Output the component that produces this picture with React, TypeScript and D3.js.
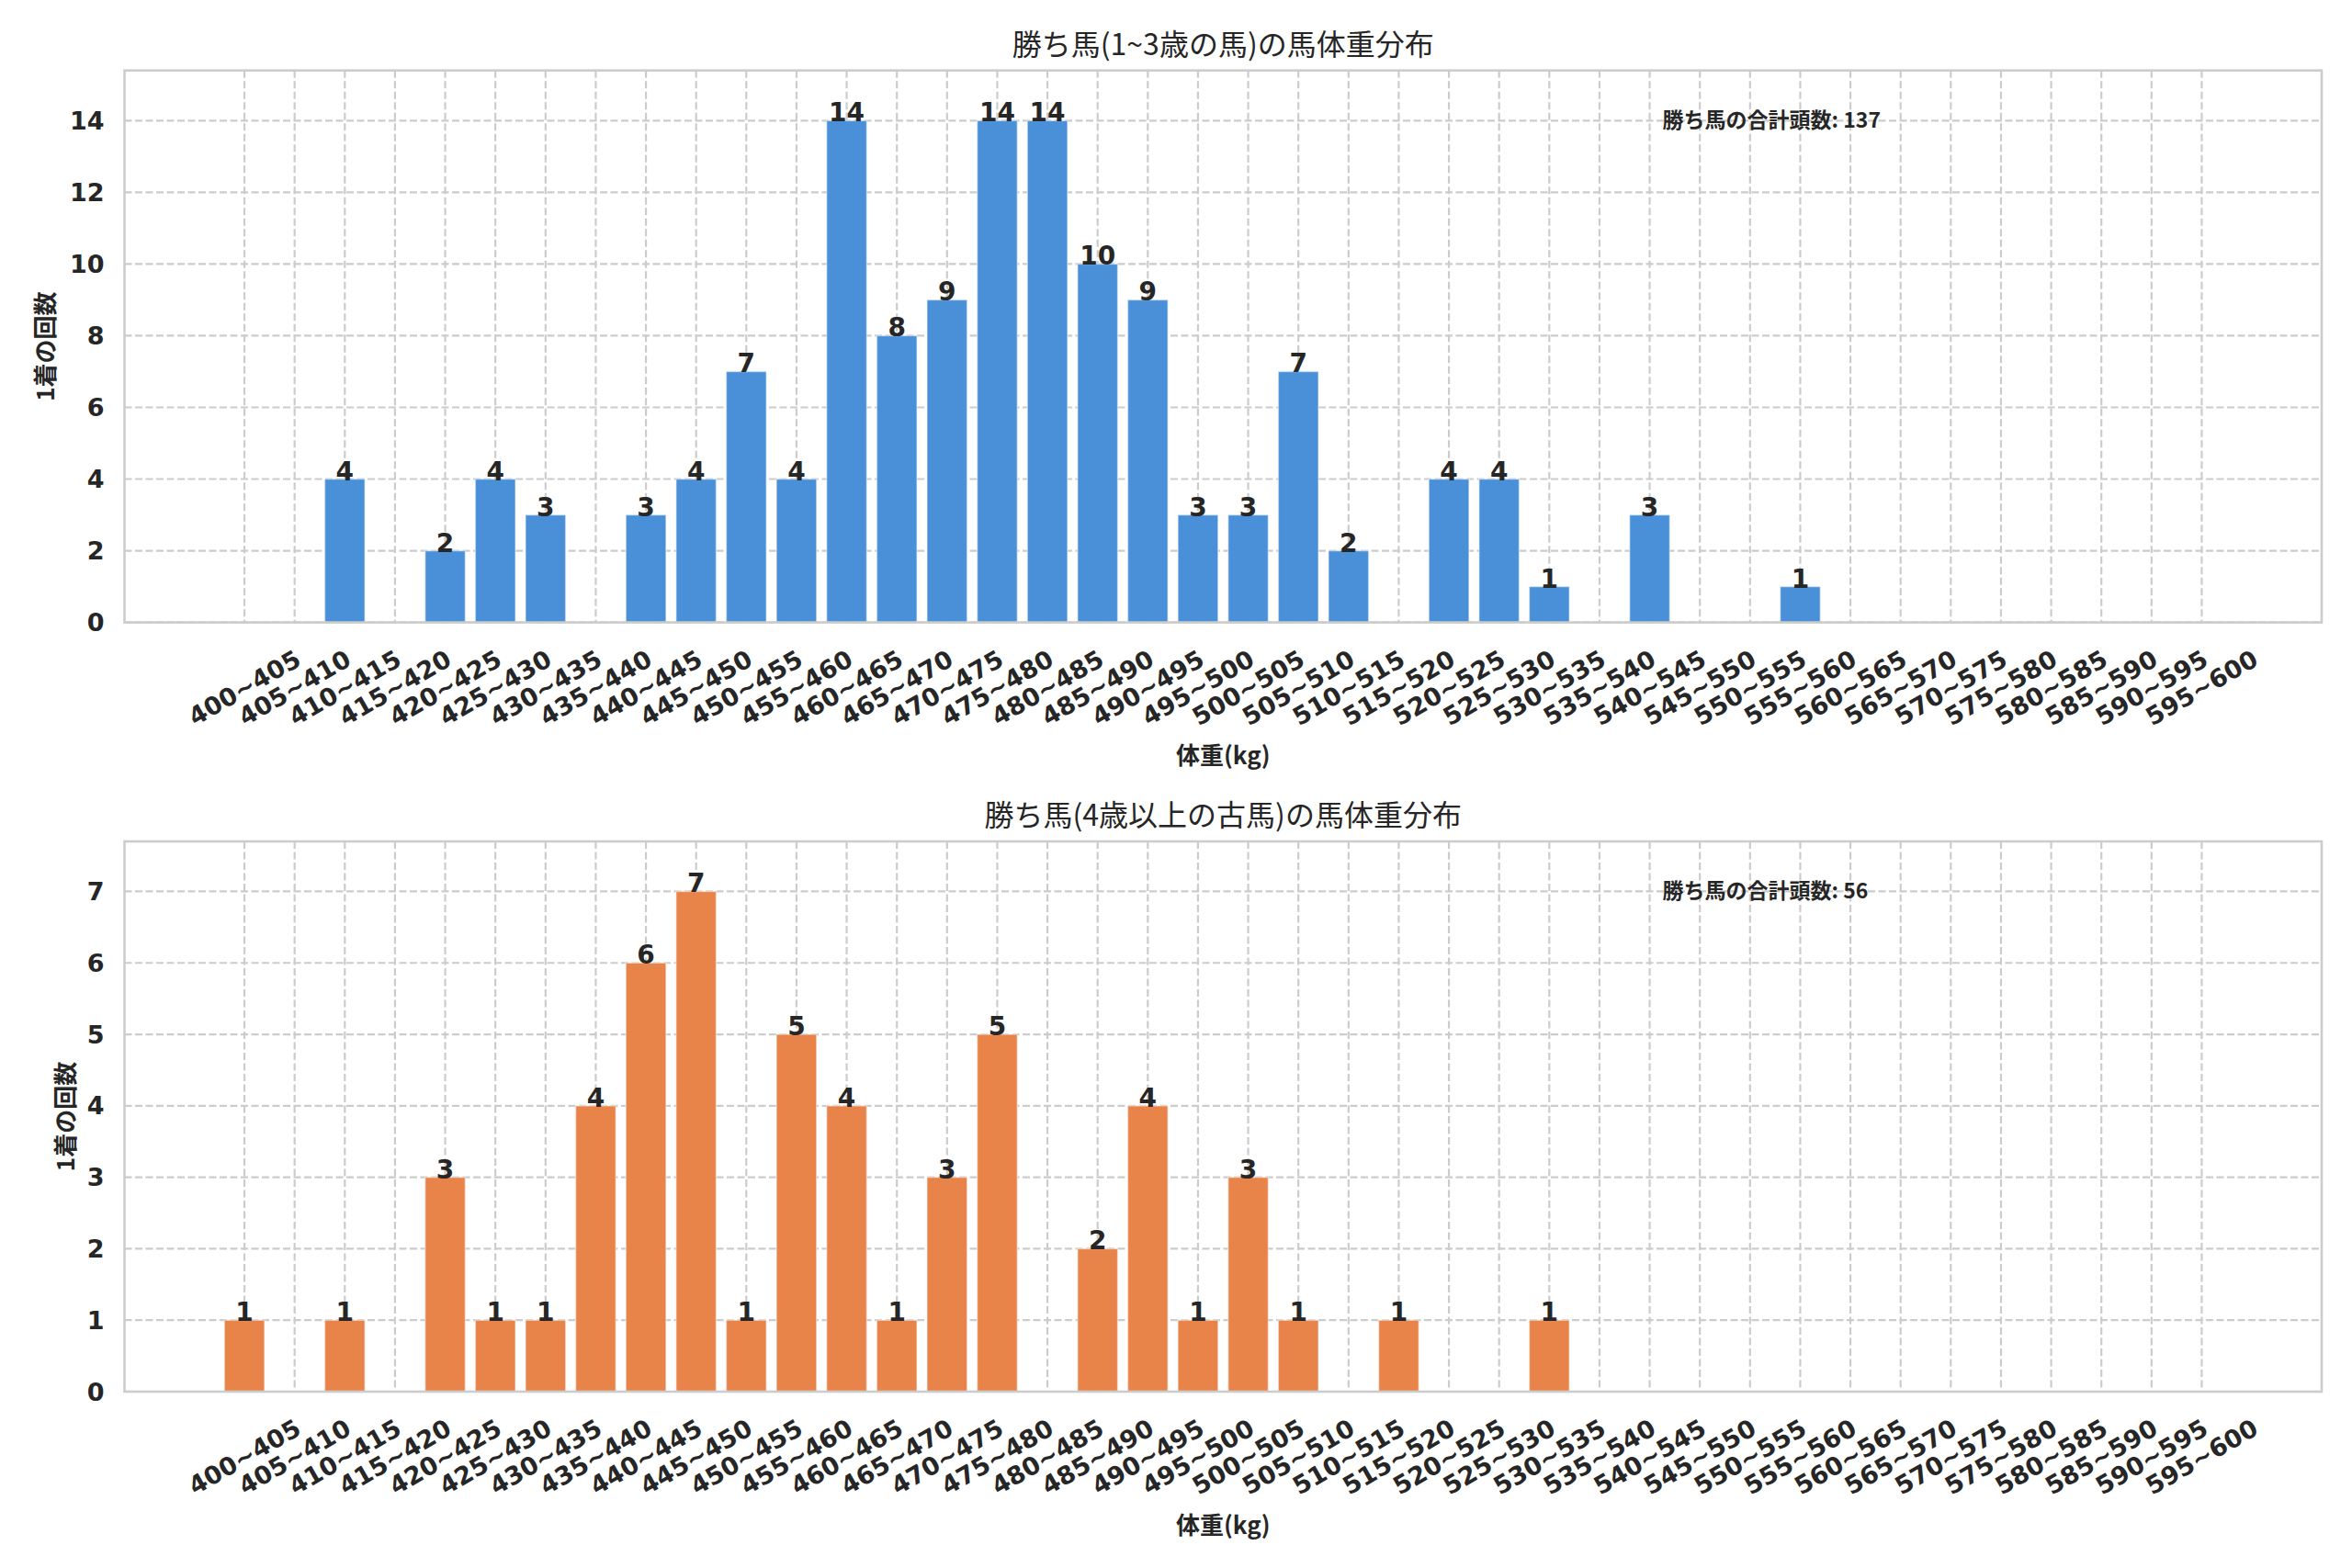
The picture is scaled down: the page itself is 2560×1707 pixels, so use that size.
import React from 'react';
import * as d3 from 'd3';

// weight bins (kg)
const categories = [
  '400~405', '405~410', '410~415', '415~420', '420~425', '425~430', '430~435', '435~440',
  '440~445', '445~450', '450~455', '455~460', '460~465', '465~470', '470~475', '475~480',
  '480~485', '485~490', '490~495', '495~500', '500~505', '505~510', '510~515', '515~520',
  '520~525', '525~530', '530~535', '535~540', '540~545', '545~550', '550~555', '555~560',
  '560~565', '565~570', '570~575', '575~580', '580~585', '585~590', '590~595', '595~600',
];

// 1~3 yr
const youngCounts = [
  0, 0, 4, 0, 2, 4, 3, 0, 3, 4, 7, 4, 14, 8, 9, 14,
  14, 10, 9, 3, 3, 7, 2, 0, 4, 4, 1, 0, 3, 0, 0, 1,
  0, 0, 0, 0, 0, 0, 0, 0,
];

// 4 yr and up
const olderCounts = [
  1, 0, 1, 0, 3, 1, 1, 4, 6, 7, 1, 5, 4, 1, 3, 5,
  0, 2, 4, 1, 3, 1, 0, 1, 0, 0, 1, 0, 0, 0, 0, 0,
  0, 0, 0, 0, 0, 0, 0, 0,
];

const yTicksTop = [0, 2, 4, 6, 8, 10, 12, 14];
const yTicksBottom = [0, 1, 2, 3, 4, 5, 6, 7];

const titles = ['勝ち馬(1~3歳の馬)の馬体重分布', '勝ち馬(4歳以上の古馬)の馬体重分布'];
const xLabel = '体重(kg)';
const yLabel = '1着の回数';
const totalLabel = '勝ち馬の合計頭数';

const W = 2560;
const H = 1707;
const left = 135.5;
const right = 2527;
const textColor = '#262626';
const gridColor = '#cccccc';
const tickFont = "'DejaVu Sans', 'Liberation Sans', sans-serif";
const jpFont = "'Noto Sans CJK JP', 'Noto Sans', sans-serif";

const x = d3.scaleBand<string>()
  .domain(categories)
  .range([left, right])
  .paddingInner(0.2)
  .paddingOuter(1.99);

type PanelProps = {
  values: number[];
  ticks: number[];
  top: number;
  bottom: number;
  color: string;
  title: string;
  ylabelX: number;
};

const Panel = ({ values, ticks, top, bottom, color, title, ylabelX }: PanelProps) => {
  const y = d3.scaleLinear()
    .domain([0, (d3.max(values) ?? 1) * 1.1])
    .range([bottom, top]);
  const total = d3.sum(values);
  const bw = x.bandwidth();
  const cx = (c: string) => (x(c) ?? 0) + bw / 2;
  const midX = (left + right) / 2;

  return (
    <g>
      {/* title */}
      <text x={midX} y={top - 17} textAnchor="middle" fontFamily={jpFont}
        fontSize={32} fill={textColor}>{title}</text>

      {/* grid */}
      {categories.map((c) => (
        <line key={'v' + c} x1={cx(c)} x2={cx(c)} y1={top} y2={bottom}
          stroke={gridColor} strokeWidth={2.2} strokeDasharray="8,3.5" />
      ))}
      {ticks.map((t) => (
        <line key={'h' + t} x1={left} x2={right} y1={y(t)} y2={y(t)}
          stroke={gridColor} strokeWidth={2.2} strokeDasharray="8,3.5" />
      ))}

      {/* bars */}
      {values.map((v, i) => v > 0 && (
        <rect key={'b' + i} x={x(categories[i])} width={bw} y={y(v)} height={y(0) - y(v)}
          fill={color} stroke="#ffffff" strokeOpacity={0.45} strokeWidth={1.5} />
      ))}

      {/* value labels */}
      {values.map((v, i) => v > 0 && (
        <text key={'l' + i} x={cx(categories[i])} y={y(v) + 1} textAnchor="middle"
          fontFamily={tickFont} fontWeight="bold" fontSize={28}
          fill={textColor}>{v}</text>
      ))}

      {/* spines */}
      <rect x={left} y={top} width={right - left} height={bottom - top}
        fill="none" stroke={gridColor} strokeWidth={2.6} />

      {/* y ticks */}
      {ticks.map((t) => (
        <text key={'yt' + t} x={left - 22} y={y(t)} textAnchor="end" dominantBaseline="central"
          fontFamily={tickFont} fontWeight="bold" fontSize={27} fill={textColor}>{t}</text>
      ))}

      {/* x ticks */}
      {categories.map((c) => {
        const px = cx(c);
        const py = bottom + 71;
        return (
          <text key={'xt' + c} x={px} y={py} textAnchor="middle" dominantBaseline="central"
            transform={`rotate(-30, ${px}, ${py})`}
            fontFamily={tickFont} fontWeight="bold" fontSize={27} fill={textColor}>{c}</text>
        );
      })}

      {/* axis labels */}
      <text x={midX} y={bottom + 143} textAnchor="middle" dominantBaseline="central"
        fontFamily={jpFont} fontWeight="bold" fontSize={26} fill={textColor}>{xLabel}</text>
      <text x={ylabelX} y={(top + bottom) / 2} textAnchor="middle" dominantBaseline="central"
        transform={`rotate(-90, ${ylabelX}, ${(top + bottom) / 2})`}
        fontFamily={jpFont} fontWeight="bold" fontSize={26} fill={textColor}>{yLabel}</text>

      {/* total */}
      <text x={left + (right - left) * 0.7} y={top + 52} dominantBaseline="central"
        fontFamily={jpFont} fontWeight="bold" fontSize={23} fill={textColor}>
        {`${totalLabel}: ${total}`}
      </text>
    </g>
  );
};

export default function App() {
  return (
    <svg width={W} height={H} viewBox={`0 0 ${W} ${H}`}
      style={{ position: 'absolute', left: 0, top: 0, background: '#ffffff' }}>
      <rect width={W} height={H} fill="#ffffff" />
      <Panel values={youngCounts} ticks={yTicksTop} top={76.7} bottom={677.6}
        color="#4a90d9" title={titles[0]} ylabelX={48} />
      <Panel values={olderCounts} ticks={yTicksBottom} top={916} bottom={1515}
        color="#e8834a" title={titles[1]} ylabelX={69} />
    </svg>
  );
}
